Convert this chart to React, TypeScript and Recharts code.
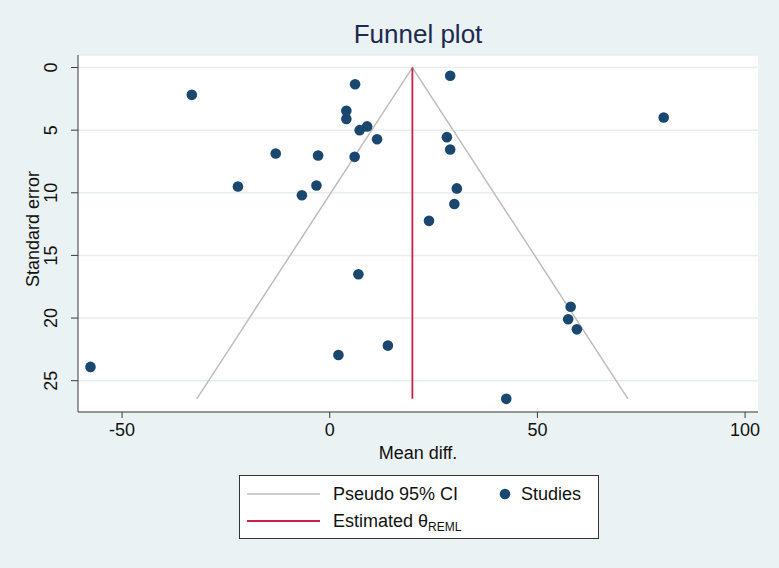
import React from "react";
import { ScatterChart, Scatter, XAxis, YAxis, CartesianGrid, Label } from "recharts";

// studies: mean difference and standard error
const studyMeanDiff = [
  -33.2, 6.1, 29.0, 4.0, 4.0, 9.0, 7.2, 11.4, 28.2, 29.0, -13.0, -2.8, 6.0, -22.1,
  -3.2, -6.7, 30.6, 30.0, 23.9, 6.9, 80.4, 58.0, 57.4, 59.5, 14.0, 2.1, -57.6, 42.5,
];
const studySE = [
  2.18, 1.33, 0.66, 3.46, 4.1, 4.7, 5.0, 5.72, 5.56, 6.54, 6.86, 7.02, 7.13, 9.5,
  9.42, 10.2, 9.65, 10.9, 12.24, 16.5, 3.99, 19.1, 20.1, 20.9, 22.2, 22.95, 23.9, 26.45,
];

// pooled estimate and pseudo 95% CI limits at the largest SE
const thetaREML = 19.9;
const seMax = 26.45;
const ciLower = -32.0;
const ciUpper = 71.8;

const xTicks = [-50, 0, 50, 100];
const yTicks = [0, 5, 10, 15, 20, 25];

const studies = studyMeanDiff.map((x, i) => ({ x, y: studySE[i] }));
const funnel = [
  { x: ciLower, y: seMax },
  { x: thetaREML, y: 0 },
  { x: ciUpper, y: seMax },
];
const estimateLine = [
  { x: thetaREML, y: 0 },
  { x: thetaREML, y: seMax },
];

const FONT = '"Liberation Sans", Arial, sans-serif';
const NAVY = "#1a476f";
const RED = "#cf1f45";
const GREY = "#bdbdbd";

const YTick = (props: any) => {
  const { x, y, payload } = props;
  const bx = x - 12;
  return (
    <text
      x={bx}
      y={y}
      transform={`rotate(-90 ${bx} ${y})`}
      textAnchor="middle"
      fontSize={18}
      fill="#111"
      fontFamily={FONT}
    >
      {payload.value}
    </text>
  );
};

const noShape = () => <g />;

export default function App() {
  return (
    <div
      style={{
        position: "absolute",
        left: 0,
        top: 0,
        width: 779,
        height: 568,
        background: "#eaf2f3",
        fontFamily: FONT,
      }}
    >
      <ScatterChart
        width={779}
        height={568}
        margin={{ top: 55, right: 21, bottom: 96, left: 8 }}
      >
        <CartesianGrid fill="#fff" vertical={false} stroke="#e6eff0" strokeWidth={1.5} />
        <XAxis
          type="number"
          dataKey="x"
          domain={[-60.6, 103.1]}
          ticks={xTicks}
          allowDataOverflow
          height={60}
          stroke="#3a3a3a"
          tickSize={6}
          tickMargin={5}
          tick={{ fontSize: 18, fill: "#111", fontFamily: FONT }}
        >
          <Label
            content={(p: any) => (
              <text
                x={p.viewBox.x + p.viewBox.width / 2}
                y={p.viewBox.y + 47}
                textAnchor="middle"
                fontSize={18}
                fill="#111"
                fontFamily={FONT}
              >
                Mean diff.
              </text>
            )}
          />
        </XAxis>
        <YAxis
          type="number"
          dataKey="y"
          reversed
          domain={[-1, 27.5]}
          ticks={yTicks}
          allowDataOverflow
          width={70}
          stroke="#3a3a3a"
          tickSize={7}
          tickMargin={2}
          tick={<YTick />}
        >
          <Label
            content={(p: any) => {
              const cx = p.viewBox.x + 25;
              const cy = 229;
              return (
                <text
                  x={cx}
                  y={cy}
                  transform={`rotate(-90 ${cx} ${cy})`}
                  textAnchor="middle"
                  dominantBaseline="central"
                  fontSize={18}
                  fill="#111"
                  fontFamily={FONT}
                >
                  Standard error
                </text>
              );
            }}
          />
        </YAxis>
        <Scatter
          data={funnel}
          line={{ stroke: GREY, strokeWidth: 1.5 }}
          lineType="joint"
          shape={noShape}
          isAnimationActive={false}
        />
        <Scatter
          data={estimateLine}
          line={{ stroke: RED, strokeWidth: 1.8 }}
          lineType="joint"
          shape={noShape}
          isAnimationActive={false}
        />
        <Scatter
          data={studies}
          fill={NAVY}
          shape={(p: any) => <circle cx={p.cx} cy={p.cy} r={5.3} fill={NAVY} />}
          isAnimationActive={false}
        />
      </ScatterChart>
      <svg
        width={779}
        height={568}
        style={{ position: "absolute", left: 0, top: 0, pointerEvents: "none" }}
        fontFamily={FONT}
      >
        <text x={418} y={43} textAnchor="middle" fontSize={26} fill="#1c2a4f">
          Funnel plot
        </text>
        <rect x={239.5} y={475.5} width={359} height={63} fill="#fff" stroke="#333" strokeWidth={1} />
        <line x1={247} y1={494} x2={320} y2={494} stroke={GREY} strokeWidth={1.5} />
        <text x={333} y={500} fontSize={18} fill="#111">
          Pseudo 95% CI
        </text>
        <circle cx={505} cy={494} r={5.3} fill={NAVY} />
        <text x={521} y={500} fontSize={18} fill="#111">
          Studies
        </text>
        <line x1={247} y1={521} x2={320} y2={521} stroke={RED} strokeWidth={1.8} />
        <text x={333} y={527} fontSize={18} fill="#111">
          Estimated θ
          <tspan fontSize={12} dy={4}>
            REML
          </tspan>
        </text>
      </svg>
    </div>
  );
}
